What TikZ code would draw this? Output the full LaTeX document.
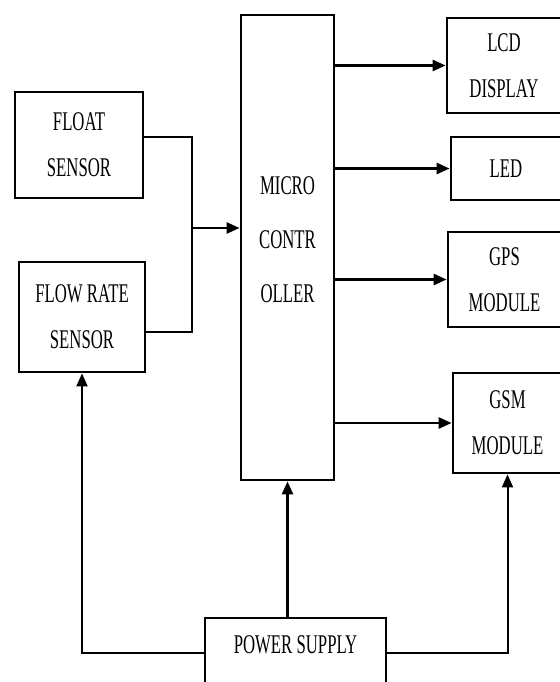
\documentclass[tikz,border=0pt]{standalone}
\usepackage{fontspec}
\setmainfont[FakeStretch=0.62]{Liberation Serif}
\usepackage{tikz}
\usetikzlibrary{arrows.meta,calc,positioning}

\begin{document}
\begin{tikzpicture}[x=1pt,y=-1pt,
  blk/.style={draw,line width=2.8pt,align=center,inner sep=0pt,
    font=\fontsize{27pt}{46pt}\selectfont,minimum height=#1},
  blk/.default=95pt,
  arr/.style={-{Triangle[length=13pt,width=11pt]},line width=2.6pt},
  wire/.style={line width=#1},
  wire/.default=2pt]
  \useasboundingbox (0,0) rectangle (559,682);
  % sensors
  \node[blk=106pt,minimum width=128pt] (float) at (79,145) {FLOAT\\SENSOR};
  \node[blk=110pt,minimum width=126pt] (flow) at (82,317) {FLOW RATE\\SENSOR};
  % controller
  \node[blk=465pt,minimum width=93pt,text depth=15pt,
    font=\fontsize{27pt}{54pt}\selectfont] (mc) at (287.5,247.5) {MICRO\\CONTR\\OLLER};
  % outputs
  \node[blk,minimum width=114pt] (lcd) at (504,65.5) {LCD\\DISPLAY};
  \node[blk=63pt,minimum width=110pt] (led) at (506,168.5) {LED};
  \node[blk,minimum width=113pt] (gps) at (504.5,279.5) {GPS\\MODULE};
  \node[blk=100pt,minimum width=109pt] (gsm) at (507.5,423) {GSM\\MODULE};
  % supply
  \node[blk=70pt,minimum width=181pt,text depth=16pt] (psu) at (295.5,653) {POWER SUPPLY};

  \coordinate (jn) at (192,228);
  \draw[wire=2.6pt] ([yshift=8pt]float.east) -| (jn);
  \draw[wire=1.2pt] ([yshift=-15pt]flow.east) -| (jn);
  \draw[arr] (jn) -- (jn -| mc.west);

  \draw[arr] (mc.east |- lcd.west) -- (lcd.west);
  \draw[arr] (mc.east |- led.west) -- (led.west);
  \draw[arr] (mc.east |- gps.west) -- (gps.west);
  \draw[arr] (mc.east |- gsm.west) -- (gsm.west);

  \draw[arr,line width=2pt] (psu.west) -| (flow.south);
  \draw[arr] (mc.south |- psu.north) -- (mc.south);
  \draw[arr,line width=2pt] (psu.east) -| (gsm.south);
\end{tikzpicture}
\end{document}
